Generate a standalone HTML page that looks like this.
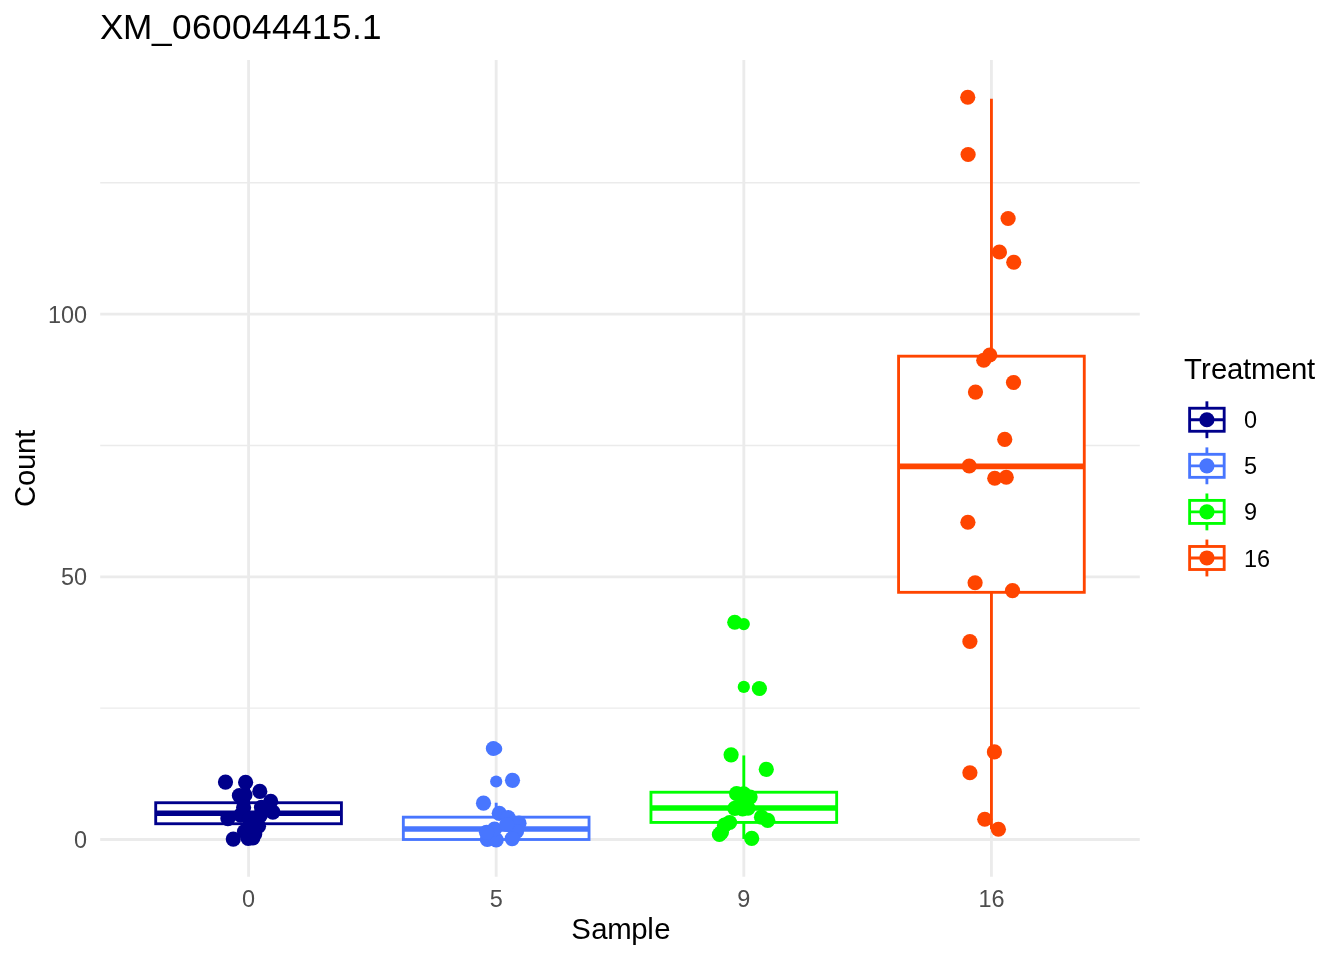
<!DOCTYPE html>
<html lang="en"><head><meta charset="utf-8"><title>XM_060044415.1</title>
<style>
html,body{margin:0;padding:0;background:#fff}
body{width:1344px;height:960px;overflow:hidden}
svg{display:block}
text{font-family:"Liberation Sans",Arial,Helvetica,sans-serif}
</style></head><body>
<svg width="1344" height="960" viewBox="0 0 1344 960">
<rect width="1344" height="960" fill="#ffffff"/>

<g stroke="#EBEBEB" fill="none">
<line x1="100.2" x2="1139.8" y1="708.16" y2="708.16" stroke-width="1.42"/>
<line x1="100.2" x2="1139.8" y1="445.49" y2="445.49" stroke-width="1.42"/>
<line x1="100.2" x2="1139.8" y1="182.81" y2="182.81" stroke-width="1.42"/>
<line x1="100.2" x2="1139.8" y1="839.50" y2="839.50" stroke-width="2.85"/>
<line x1="100.2" x2="1139.8" y1="576.83" y2="576.83" stroke-width="2.85"/>
<line x1="100.2" x2="1139.8" y1="314.15" y2="314.15" stroke-width="2.85"/>
<line x1="248.57" x2="248.57" y1="60.1" y2="876.8" stroke-width="2.85"/>
<line x1="496.19" x2="496.19" y1="60.1" y2="876.8" stroke-width="2.85"/>
<line x1="743.81" x2="743.81" y1="60.1" y2="876.8" stroke-width="2.85"/>
<line x1="991.43" x2="991.43" y1="60.1" y2="876.8" stroke-width="2.85"/>
</g>
<g stroke="#00008B" fill="none" stroke-width="2.85">
<line x1="248.57" x2="248.57" y1="781.71" y2="802.73"/>
<line x1="248.57" x2="248.57" y1="823.74" y2="839.50"/>
<rect x="155.71" y="802.73" width="185.71" height="21.01" fill="#ffffff"/>
<line x1="155.71" x2="341.43" y1="813.23" y2="813.23" stroke-width="5.7"/>
</g>
<g stroke="#4876FF" fill="none" stroke-width="2.85">
<circle cx="496.19" cy="781.50" r="6.1" fill="#4876FF" stroke="none"/>
<circle cx="496.19" cy="748.77" r="6.1" fill="#4876FF" stroke="none"/>
<line x1="496.19" x2="496.19" y1="802.73" y2="817.17"/>
<line x1="496.19" x2="496.19" y1="839.50" y2="839.50"/>
<rect x="403.33" y="817.17" width="185.71" height="22.33" fill="#ffffff"/>
<line x1="403.33" x2="589.05" y1="828.99" y2="828.99" stroke-width="5.7"/>
</g>
<g stroke="#00FF00" fill="none" stroke-width="2.85">
<circle cx="743.81" cy="686.89" r="6.1" fill="#00FF00" stroke="none"/>
<circle cx="743.81" cy="624.11" r="6.1" fill="#00FF00" stroke="none"/>
<line x1="743.81" x2="743.81" y1="755.44" y2="792.22"/>
<line x1="743.81" x2="743.81" y1="822.43" y2="838.97"/>
<rect x="650.95" y="792.22" width="185.71" height="30.21" fill="#ffffff"/>
<line x1="650.95" x2="836.67" y1="807.98" y2="807.98" stroke-width="5.7"/>
</g>
<g stroke="#FF4500" fill="none" stroke-width="2.85">
<line x1="991.43" x2="991.43" y1="98.76" y2="356.18"/>
<line x1="991.43" x2="991.43" y1="592.32" y2="828.99"/>
<rect x="898.57" y="356.18" width="185.71" height="236.14" fill="#ffffff"/>
<line x1="898.57" x2="1084.29" y1="466.34" y2="466.34" stroke-width="5.7"/>
</g>
<g fill="#00008B">
<circle cx="225.5" cy="782.1" r="7.6"/>
<circle cx="245.6" cy="782.3" r="7.6"/>
<circle cx="259.8" cy="791.4" r="7.6"/>
<circle cx="239.4" cy="795.6" r="7.6"/>
<circle cx="244.9" cy="795.0" r="7.6"/>
<circle cx="270.7" cy="801.4" r="7.6"/>
<circle cx="243.6" cy="807.4" r="7.6"/>
<circle cx="261.5" cy="807.4" r="7.6"/>
<circle cx="272.9" cy="812.1" r="7.6"/>
<circle cx="227.9" cy="818.6" r="7.6"/>
<circle cx="240.7" cy="815.1" r="7.6"/>
<circle cx="260.2" cy="815.6" r="7.6"/>
<circle cx="249.5" cy="819.0" r="7.6"/>
<circle cx="258.5" cy="826.2" r="7.6"/>
<circle cx="244.5" cy="831.6" r="7.6"/>
<circle cx="233.3" cy="839.1" r="7.6"/>
<circle cx="248.2" cy="838.5" r="7.6"/>
<circle cx="252.8" cy="837.9" r="7.6"/>
<circle cx="254.7" cy="833.9" r="7.6"/>
<circle cx="250.5" cy="826" r="7.6"/>
</g>
<g fill="#4876FF">
<circle cx="493.4" cy="748.5" r="7.6"/>
<circle cx="512.5" cy="780.3" r="7.6"/>
<circle cx="483.5" cy="803.2" r="7.6"/>
<circle cx="499.25" cy="813.3" r="7.6"/>
<circle cx="508.1" cy="817.5" r="7.6"/>
<circle cx="519.0" cy="823.2" r="7.6"/>
<circle cx="516.5" cy="831.5" r="7.6"/>
<circle cx="512.2" cy="838.6" r="7.6"/>
<circle cx="487.3" cy="839.3" r="7.6"/>
<circle cx="496.2" cy="839.8" r="7.6"/>
<circle cx="494.5" cy="829.1" r="7.6"/>
<circle cx="486.5" cy="832.3" r="7.6"/>
<circle cx="506.8" cy="824.5" r="7.6"/>
</g>
<g fill="#00FF00">
<circle cx="734.75" cy="622.25" r="7.6"/>
<circle cx="759.4" cy="688.5" r="7.6"/>
<circle cx="731.1" cy="754.8" r="7.6"/>
<circle cx="766.3" cy="769.3" r="7.6"/>
<circle cx="736.6" cy="793.7" r="7.6"/>
<circle cx="743.7" cy="793.9" r="7.6"/>
<circle cx="750.1" cy="797.1" r="7.6"/>
<circle cx="734.8" cy="808.4" r="7.6"/>
<circle cx="742.6" cy="809.0" r="7.6"/>
<circle cx="748.0" cy="808.2" r="7.6"/>
<circle cx="761.5" cy="817.2" r="7.6"/>
<circle cx="767.7" cy="820.3" r="7.6"/>
<circle cx="729.6" cy="822.5" r="7.6"/>
<circle cx="724.5" cy="825.2" r="7.6"/>
<circle cx="719.4" cy="834.5" r="7.6"/>
<circle cx="751.7" cy="838.4" r="7.6"/>
<circle cx="742.9" cy="801.2" r="7.6"/>
<circle cx="721.4" cy="832.5" r="7.6"/>
</g>
<g fill="#FF4500">
<circle cx="967.75" cy="97.25" r="7.6"/>
<circle cx="968.1" cy="154.5" r="7.6"/>
<circle cx="1008.1" cy="218.5" r="7.6"/>
<circle cx="999.4" cy="252.0" r="7.6"/>
<circle cx="1013.75" cy="262.25" r="7.6"/>
<circle cx="989.75" cy="355.0" r="7.6"/>
<circle cx="983.75" cy="360.25" r="7.6"/>
<circle cx="1013.5" cy="382.5" r="7.6"/>
<circle cx="975.5" cy="392.1" r="7.6"/>
<circle cx="1004.75" cy="439.4" r="7.6"/>
<circle cx="969.25" cy="466.0" r="7.6"/>
<circle cx="994.75" cy="478.25" r="7.6"/>
<circle cx="1006.25" cy="477.25" r="7.6"/>
<circle cx="967.9" cy="522.25" r="7.6"/>
<circle cx="975.1" cy="582.75" r="7.6"/>
<circle cx="1012.5" cy="590.6" r="7.6"/>
<circle cx="969.9" cy="641.5" r="7.6"/>
<circle cx="994.4" cy="751.9" r="7.6"/>
<circle cx="969.9" cy="772.75" r="7.6"/>
<circle cx="984.75" cy="819.25" r="7.6"/>
<circle cx="998.4" cy="829.25" r="7.6"/>
</g>
<text x="99.95 122.95 151.95 171.95 191.95 211.95 231.95 251.95 271.95 291.95 311.95 331.95 351.95 361.95" y="39.00" font-size="35.2" fill="#000">XM_060044415.1</text>
<text x="74.00" y="848.20" font-size="23.47" fill="#4D4D4D">0</text>
<text x="61.00 74.00" y="585.00" font-size="23.47" fill="#4D4D4D">50</text>
<text x="48.00 61.00 74.00" y="323.30" font-size="23.47" fill="#4D4D4D">100</text>
<text x="242.07" y="906.80" font-size="23.47" fill="#4D4D4D">0</text>
<text x="489.69" y="906.80" font-size="23.47" fill="#4D4D4D">5</text>
<text x="737.31" y="906.80" font-size="23.47" fill="#4D4D4D">9</text>
<text x="978.43 991.43" y="906.80" font-size="23.47" fill="#4D4D4D">16</text>
<text x="571.20 591.20 607.20 631.20 647.20 654.20" y="938.70" font-size="29.33" fill="#000">Sample</text>
<text x="-38.50 -17.50 -1.50 14.50 30.50" y="0.00" font-size="29.33" fill="#000" transform="translate(35 468.4) rotate(-90)">Count</text>
<text x="1184.00 1201.00 1211.00 1227.00 1243.00 1251.00 1275.00 1291.00 1307.00" y="378.80" font-size="29.33" fill="#000">Treatment</text>
<g stroke="#00008B" fill="none" stroke-width="2.85">
<line x1="1206.9" x2="1206.9" y1="401.32" y2="408.23"/>
<line x1="1206.9" x2="1206.9" y1="431.27" y2="438.18"/>
<rect x="1189.62" y="408.23" width="34.56" height="23.04" fill="#ffffff"/>
<line x1="1189.62" x2="1224.18" y1="419.75" y2="419.75"/>
<circle cx="1206.9" cy="419.75" r="7.6" fill="#00008B" stroke="none"/>
</g>
<text x="1244.00" y="427.80" font-size="23.47" fill="#000">0</text>
<g stroke="#4876FF" fill="none" stroke-width="2.85">
<line x1="1206.9" x2="1206.9" y1="447.40" y2="454.31"/>
<line x1="1206.9" x2="1206.9" y1="477.35" y2="484.26"/>
<rect x="1189.62" y="454.31" width="34.56" height="23.04" fill="#ffffff"/>
<line x1="1189.62" x2="1224.18" y1="465.83" y2="465.83"/>
<circle cx="1206.9" cy="465.83" r="7.6" fill="#4876FF" stroke="none"/>
</g>
<text x="1244.00" y="473.90" font-size="23.47" fill="#000">5</text>
<g stroke="#00FF00" fill="none" stroke-width="2.85">
<line x1="1206.9" x2="1206.9" y1="493.48" y2="500.39"/>
<line x1="1206.9" x2="1206.9" y1="523.43" y2="530.34"/>
<rect x="1189.62" y="500.39" width="34.56" height="23.04" fill="#ffffff"/>
<line x1="1189.62" x2="1224.18" y1="511.91" y2="511.91"/>
<circle cx="1206.9" cy="511.91" r="7.6" fill="#00FF00" stroke="none"/>
</g>
<text x="1244.00" y="520.00" font-size="23.47" fill="#000">9</text>
<g stroke="#FF4500" fill="none" stroke-width="2.85">
<line x1="1206.9" x2="1206.9" y1="539.56" y2="546.47"/>
<line x1="1206.9" x2="1206.9" y1="569.51" y2="576.42"/>
<rect x="1189.62" y="546.47" width="34.56" height="23.04" fill="#ffffff"/>
<line x1="1189.62" x2="1224.18" y1="557.99" y2="557.99"/>
<circle cx="1206.9" cy="557.99" r="7.6" fill="#FF4500" stroke="none"/>
</g>
<text x="1244.00 1257.00" y="567.00" font-size="23.47" fill="#000">16</text>
</svg></body></html>
